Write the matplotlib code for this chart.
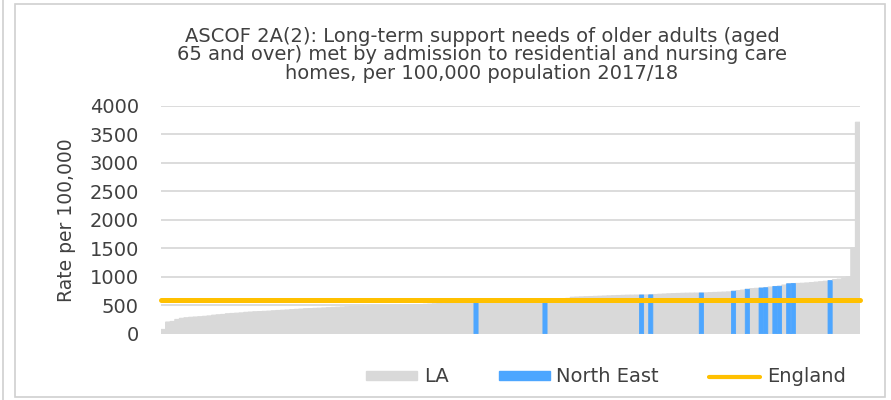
import numpy as np
import matplotlib
matplotlib.use("Agg")
import matplotlib.pyplot as plt
from matplotlib.patches import Rectangle
from matplotlib.lines import Line2D

# LA rates per 100,000 (sorted ascending)
la_values = [
    75, 205, 215, 250, 270, 280, 288, 293, 298, 305,
    312, 325, 332, 338, 350, 355, 360, 365, 375, 380,
    385, 388, 392, 396, 402, 407, 412, 416, 422, 427,
    432, 438, 441, 445, 448, 452, 457, 461, 465, 469,
    474, 476, 478, 480, 482, 484, 486, 488, 490, 492,
    494, 496, 498, 500, 502, 505, 508, 515, 520, 525,
    530, 535, 538, 541, 544, 547, 550, 553, 556, 559,
    562, 565, 568, 571, 574, 577, 580, 583, 586, 589,
    592, 595, 598, 601, 604, 608, 612, 616, 620, 640,
    643, 646, 649, 652, 655, 658, 661, 664, 667, 670,
    673, 676, 677, 678, 679, 680, 681, 688, 692, 696,
    700, 703, 706, 709, 711, 712, 713, 714, 716, 720,
    724, 727, 730, 733, 745, 755, 765, 779, 790, 796,
    801, 806, 819, 828, 832, 854, 875, 880, 882, 885,
    890, 897, 905, 912, 920, 930, 950, 958, 968, 1000,
    1500, 3710,
]
# positions (in sorted order) of the North East councils
ne_idx = [68, 83, 104, 106, 117, 124, 127, 130, 131, 133, 134, 136, 137, 145]
england = 586

title = ("ASCOF 2A(2): Long-term support needs of older adults (aged\n"
         "65 and over) met by admission to residential and nursing care\n"
         "homes, per 100,000 population 2017/18")

plt.rcParams['font.family'] = ['DejaVu Sans']
txt = '#404040'
grey = '#d9d9d9'
blue = '#4da6ff'
gold = '#ffc000'

x = np.arange(len(la_values))
vals = np.array(la_values)

fig = plt.figure(figsize=(8.91, 4.0), dpi=100)
ax = fig.add_axes([161 / 891, 1 - 333.7 / 400, 699 / 891, 228 / 400])

ax.bar(x, vals, width=1.0, color=grey, edgecolor=grey, lw=0.8, snap=False,
       zorder=2)
ax.bar(x[ne_idx], vals[ne_idx], width=0.9, color=blue, edgecolor=blue,
       lw=0.6, snap=False, zorder=3)
ax.plot([-0.5, len(vals) - 0.5], [england, england], color=gold, lw=3.6,
        solid_capstyle='round', zorder=4, clip_on=False)

ax.set_xlim(-0.5, len(vals) - 0.5)
ax.set_ylim(0, 4000)
ax.set_yticks(range(0, 4001, 500))
ax.yaxis.grid(True, color=grey, lw=1.3, zorder=0)
ax.set_axisbelow(True)
ax.set_xticks([])
for s in ax.spines.values():
    s.set_visible(False)
ax.tick_params(axis='y', length=0, labelsize=14, labelcolor=txt, pad=16)
ax.set_ylabel("Rate per 100,000", fontsize=13.5, color=txt, labelpad=10)

fig.text(482 / 891, 1 - 55 / 400, title, ha='center', va='center',
         fontsize=14, color=txt, linespacing=0.95)

handles = [Rectangle((0, 0), 1, 1, color=grey),
           Rectangle((0, 0), 1, 1, color=blue),
           Line2D([0], [0], color=gold, lw=3, solid_capstyle='round')]
leg = fig.legend(handles, ["LA", "North East", "England"], loc='center',
                 bbox_to_anchor=(606 / 891, 1 - 377 / 400), ncol=3,
                 frameon=False, fontsize=14, handlelength=2.6,
                 handleheight=0.4, handletextpad=0.35, columnspacing=2.6)
for t in leg.get_texts():
    t.set_color(txt)

# chart-area border
fig.patches.append(Rectangle((15 / 891, 3 / 400), 870 / 891, 393 / 400,
                             transform=fig.transFigure, fill=False,
                             edgecolor='#d0d0d0', lw=1.2))
fig.lines.append(Line2D([3 / 891, 3 / 891], [0, 1], transform=fig.transFigure,
                        color='#d0d0d0', lw=1.2))

fig.savefig('out.png', dpi=100)
